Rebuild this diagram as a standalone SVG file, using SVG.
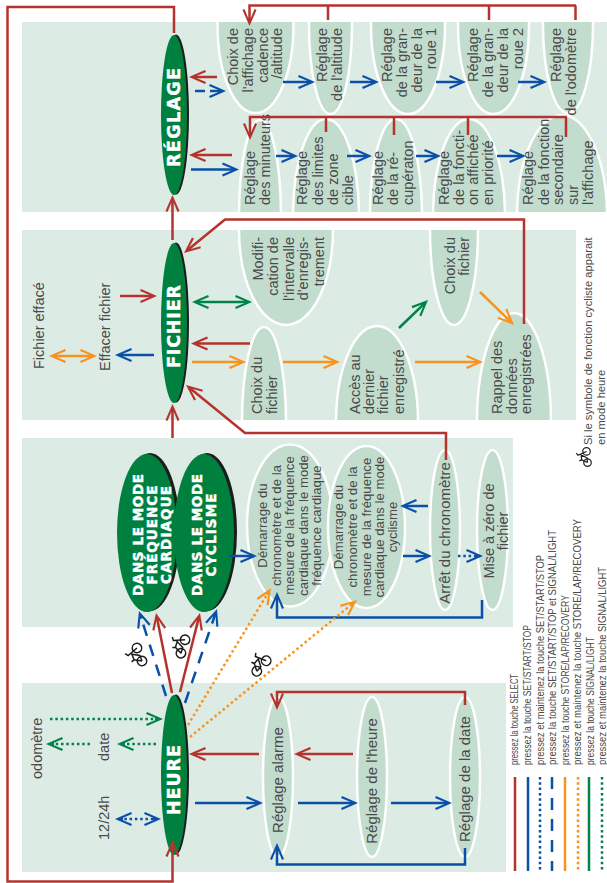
<svg xmlns="http://www.w3.org/2000/svg" width="607" height="883" viewBox="0 0 607 883">
<style>
.t{font-family:"Liberation Sans",Arial,sans-serif;font-size:14.5px;fill:#4a4a4a}
.one{font-size:15px}
.s{font-size:13.2px}
.l{font-size:11.2px}
.lg{font-size:10.5px}
.e{text-anchor:end}
.m{text-anchor:middle}
.w{font-family:"DejaVu Sans",Arial,sans-serif;font-weight:bold;fill:#fff;stroke:#fff;stroke-width:.45;text-anchor:middle}
.p{fill:#dcebe3}
.n{fill:#c2dccd;stroke:#fff;stroke-width:2.5}
.gn{fill:#00803f}
.sh{fill:#1c1c1c}
.c{fill:none;stroke-width:2.5}
.r{stroke:#b5332e}.b{stroke:#0a50a8}.o{stroke:#f7931e}.g{stroke:#00834a}
.dot{stroke-dasharray:2.5 2.8}
.dash{stroke-dasharray:12 9}
.r.a{marker-end:url(#mr)}.b.a{marker-end:url(#mb)}.o.a{marker-end:url(#mo)}.g.a{marker-end:url(#mg)}
.b.z{marker-start:url(#mb)}.o.z{marker-start:url(#mo)}.g.z{marker-start:url(#mg)}
</style>
<defs>
<path id="head" d="M0,0 L-16,-7 L-17,-5 L-8,-1.3 L-8,1.3 L-17,5 L-16,7Z"/>
<marker id="mr" viewBox="-20 -10 24 20" refX="-4" refY="0" markerWidth="24" markerHeight="20" orient="auto-start-reverse" markerUnits="userSpaceOnUse"><use href="#head" fill="#b5332e"/></marker>
<marker id="mb" viewBox="-20 -10 24 20" refX="-4" refY="0" markerWidth="24" markerHeight="20" orient="auto-start-reverse" markerUnits="userSpaceOnUse"><use href="#head" fill="#0a50a8"/></marker>
<marker id="mo" viewBox="-20 -10 24 20" refX="-4" refY="0" markerWidth="24" markerHeight="20" orient="auto-start-reverse" markerUnits="userSpaceOnUse"><use href="#head" fill="#f7931e"/></marker>
<marker id="mg" viewBox="-20 -10 24 20" refX="-4" refY="0" markerWidth="24" markerHeight="20" orient="auto-start-reverse" markerUnits="userSpaceOnUse"><use href="#head" fill="#00834a"/></marker>
<clipPath id="c1"><rect x="22" y="22" width="585" height="190"/></clipPath>
<clipPath id="c2"><rect x="22" y="230" width="554" height="190"/></clipPath>
<g id="bike" fill="none" stroke="#1c1c1c" stroke-width="1.5">
<circle cx="-7" cy="0" r="4.7"/><circle cx="7" cy="0" r="4.7"/>
<path d="M-7,0 L-3,-7 L3,-7 L-1,0 L-7,0 M7,0 L3,-11 L6,-13 M-3,-7 L-4,-10"/>
</g>
</defs>

<g id="panels">
<rect class="p" x="22" y="22" width="585" height="190"/>
<rect class="p" x="22" y="230" width="554" height="190"/>
<rect class="p" x="22" y="438" width="491" height="189"/>
<rect class="p" x="22" y="683" width="484" height="189"/>
</g>

<g id="reglage">
<ellipse class="sh" cx="176" cy="114.500" rx="13" ry="80"/><ellipse class="gn" cx="174" cy="115" rx="13" ry="80"/>
<text class="w" font-size="17.500" textLength="99" transform="translate(0,117.500) rotate(-90)" x="0" y="180">RÉGLAGE</text>
</g>
<g id="choix-affichage"><ellipse class="n" clip-path="url(#c1)" cx="255.500" cy="25" rx="38" ry="88"/>
<text class="t e" transform="translate(0,28) rotate(-90)"><tspan x="0" y="238">Choix de</tspan><tspan x="0" y="253">l'affichage</tspan><tspan x="0" y="268">cadence</tspan><tspan x="0" y="282">/altitude</tspan></text></g>
<g id="reglage-altitude"><ellipse class="n" clip-path="url(#c1)" cx="330.500" cy="25" rx="21.500" ry="89"/>
<text class="t e" transform="translate(0,28) rotate(-90)"><tspan x="0" y="327">Réglage</tspan><tspan x="0" y="342">de l'altitude</tspan></text></g>
<g id="reglage-roue1"><ellipse class="n" clip-path="url(#c1)" cx="408" cy="25" rx="37" ry="89"/>
<text class="t e" transform="translate(0,28) rotate(-90)"><tspan x="0" y="392">Réglage</tspan><tspan x="0" y="407">de la gran-</tspan><tspan x="0" y="422">deur de la</tspan><tspan x="0" y="436">roue 1</tspan></text></g>
<g id="reglage-roue2"><ellipse class="n" clip-path="url(#c1)" cx="493.500" cy="25" rx="35.500" ry="89"/>
<text class="t e" transform="translate(0,28) rotate(-90)"><tspan x="0" y="478">Réglage</tspan><tspan x="0" y="493">de la gran-</tspan><tspan x="0" y="508">deur de la</tspan><tspan x="0" y="523">roue 2</tspan></text></g>
<g id="reglage-odometre"><ellipse class="n" clip-path="url(#c1)" cx="568" cy="25" rx="25" ry="88"/>
<text class="t e" transform="translate(0,28) rotate(-90)"><tspan x="0" y="561">Réglage</tspan><tspan x="0" y="576">de l'odomètre</tspan></text></g>

<g id="reglage-minuteurs"><ellipse class="n" clip-path="url(#c1)" cx="260" cy="216" rx="21" ry="96"/>
<text class="t" transform="translate(0,205) rotate(-90)"><tspan x="0" y="255">Réglage</tspan><tspan x="0" y="270">des minuteurs</tspan></text></g>
<g id="reglage-limites"><ellipse class="n" clip-path="url(#c1)" cx="326" cy="216" rx="33" ry="97"/>
<text class="t" transform="translate(0,205) rotate(-90)"><tspan x="0" y="307">Réglage</tspan><tspan x="0" y="323">des limites</tspan><tspan x="0" y="338">de zone</tspan><tspan x="0" y="353">cible</tspan></text></g>
<g id="reglage-recuperation"><ellipse class="n" clip-path="url(#c1)" cx="396" cy="216" rx="26" ry="97"/>
<text class="t" transform="translate(0,205) rotate(-90)"><tspan x="0" y="383">Réglage</tspan><tspan x="0" y="398">de la ré-</tspan><tspan x="0" y="413">cupératon</tspan></text></g>
<g id="reglage-fonction"><ellipse class="n" clip-path="url(#c1)" cx="469" cy="216" rx="36" ry="97"/>
<text class="t" transform="translate(0,205) rotate(-90)"><tspan x="0" y="449">Réglage</tspan><tspan x="0" y="464">de la foncti-</tspan><tspan x="0" y="478">on affichée</tspan><tspan x="0" y="493">en priorité</tspan></text></g>
<g id="reglage-secondaire"><ellipse class="n" clip-path="url(#c1)" cx="562" cy="216" rx="45" ry="101"/>
<text class="t" transform="translate(0,205) rotate(-90)"><tspan x="0" y="533">Réglage</tspan><tspan x="0" y="549">de la fonction</tspan><tspan x="0" y="563">secondaire</tspan><tspan x="0" y="578">sur</tspan><tspan x="0" y="593">l'affichage</tspan></text></g>

<g id="fichier">
<ellipse class="sh" cx="176" cy="322.500" rx="13" ry="80"/><ellipse class="gn" cx="174" cy="323" rx="13" ry="80"/>
<text class="w" font-size="17.500" textLength="83" transform="translate(0,326.500) rotate(-90)" x="0" y="180">FICHIER</text>
<text class="t" transform="translate(0,369) rotate(-90)" x="0" y="44">Fichier effacé</text>
<text class="t" transform="translate(0,371) rotate(-90)" x="0" y="110">Effacer fichier</text>
</g>
<g id="modification"><ellipse class="n" clip-path="url(#c2)" cx="286" cy="230" rx="47" ry="95"/>
<text class="t e" transform="translate(0,237) rotate(-90)"><tspan x="0" y="263">Modifi-</tspan><tspan x="0" y="278">cation de</tspan><tspan x="0" y="294">l'intervalle</tspan><tspan x="0" y="308">d'enregis-</tspan><tspan x="0" y="324">trement</tspan></text></g>
<g id="choix-fichier-1"><ellipse class="n" clip-path="url(#c2)" cx="264" cy="422" rx="22" ry="95"/>
<text class="t" transform="translate(0,414) rotate(-90)"><tspan x="0" y="262">Choix du</tspan><tspan x="0" y="277">fichier</tspan></text></g>
<g id="choix-fichier-2"><ellipse class="n" clip-path="url(#c2)" cx="454" cy="230" rx="24" ry="95"/>
<text class="t e" transform="translate(0,237) rotate(-90)"><tspan x="0" y="455">Choix du</tspan><tspan x="0" y="469">fichier</tspan></text></g>
<g id="acces"><ellipse class="n" clip-path="url(#c2)" cx="377" cy="422" rx="41" ry="96"/>
<text class="t" transform="translate(0,414) rotate(-90)"><tspan x="0" y="360">Accès au</tspan><tspan x="0" y="374">dernier</tspan><tspan x="0" y="388">fichier</tspan><tspan x="0" y="404">enregistré</tspan></text></g>
<g id="rappel"><ellipse class="n" clip-path="url(#c2)" cx="514" cy="422" rx="37" ry="109"/>
<text class="t" transform="translate(0,414) rotate(-90)"><tspan x="0" y="502">Rappel des</tspan><tspan x="0" y="517">données</tspan><tspan x="0" y="531">enregistrées</tspan></text></g>

<g id="mode-frequence">
<ellipse class="sh" cx="150" cy="532" rx="30" ry="79"/><ellipse class="gn" cx="147" cy="533" rx="30" ry="79"/>
<text class="w" font-size="13.500" transform="translate(0,535) rotate(-90)"><tspan x="0" y="143" textLength="122">DANS LE MODE</tspan><tspan x="0" y="157" textLength="99">FRÉQUENCE</tspan><tspan x="0" y="171" textLength="98">CARDIAQUE</tspan></text>
</g>
<g id="mode-cyclisme">
<ellipse class="sh" cx="207" cy="532" rx="30" ry="79"/><ellipse class="gn" cx="204" cy="533" rx="30" ry="79"/>
<text class="w" font-size="13.500" transform="translate(0,535) rotate(-90)"><tspan x="0" y="202" textLength="122">DANS LE MODE</tspan><tspan x="0" y="216" textLength="83">CYCLISME</tspan></text>
</g>
<g id="demarrage-frequence"><ellipse class="n" cx="290" cy="525.500" rx="43" ry="81"/>
<text class="t s m" transform="translate(0,525.500) rotate(-90)"><tspan x="0" y="267">Démarrage du</tspan><tspan x="0" y="280.500">chronomètre et de la</tspan><tspan x="0" y="294">mesure de la fréquence</tspan><tspan x="0" y="308">cardiaque dans le mode</tspan><tspan x="0" y="321">fréquence cardiaque</tspan></text></g>
<g id="demarrage-cyclisme"><ellipse class="n" cx="366.500" cy="527" rx="38.500" ry="81"/>
<text class="t s m" transform="translate(0,527) rotate(-90)"><tspan x="0" y="343">Démarrage du</tspan><tspan x="0" y="357">chronomètre et de la</tspan><tspan x="0" y="371">mesure de la fréquence</tspan><tspan x="0" y="384">cardiaque dans le mode</tspan><tspan x="0" y="397">cyclisme</tspan></text></g>
<g id="arret"><ellipse class="n" cx="445" cy="530" rx="15" ry="80"/>
<text class="t one m" transform="translate(0,533) rotate(-90)" x="0" y="450">Arrêt du chronomètre</text></g>
<g id="mise-a-zero"><ellipse class="n" cx="492.500" cy="530" rx="15.500" ry="80"/>
<text class="t m" transform="translate(0,531) rotate(-90)"><tspan x="0" y="494">Mise à zéro de</tspan><tspan x="0" y="508">fichier</tspan></text></g>

<g id="heure">
<ellipse class="sh" cx="176" cy="774.500" rx="13" ry="80"/><ellipse class="gn" cx="174" cy="775" rx="13" ry="80"/>
<text class="w" font-size="17.500" textLength="70" transform="translate(0,780) rotate(-90)" x="0" y="180">HEURE</text>
<text class="t" transform="translate(0,779) rotate(-90)" x="0" y="42">odomètre</text>
<text class="t" transform="translate(0,761) rotate(-90)" x="0" y="109">date</text>
<text class="t" transform="translate(0,840) rotate(-90)" x="0" y="109">12/24h</text>
</g>
<g id="reglage-alarme"><ellipse class="n" cx="278" cy="777" rx="15" ry="80"/>
<text class="t one m" transform="translate(0,780) rotate(-90)" x="0" y="283">Réglage alarme</text></g>
<g id="reglage-heure"><ellipse class="n" cx="372" cy="777" rx="15" ry="80"/>
<text class="t one m" transform="translate(0,781) rotate(-90)" x="0" y="377">Réglage de l'heure</text></g>
<g id="reglage-date"><ellipse class="n" cx="465" cy="777" rx="15" ry="80"/>
<text class="t one m" transform="translate(0,779) rotate(-90)" x="0" y="470">Réglage de la date</text></g>

<g id="connectors">
<path class="c r a" d="M174,33V7H7.500V881.500H172.500V844"/>
<path class="c r a" d="M172.500,240V199"/>
<path class="c r a" d="M172.500,438V408"/>
<path class="c r a" d="M576,5.500H249.500V22"/>
<path class="c r" d="M328,5.500V20M489,5.500V20M575.500,5.500V20"/>
<path class="c r a" d="M567,117H250V136"/>
<path class="c r" d="M326,117V132M394,117V135M468,117V135M566,117V137"/>
<path class="c r a" d="M217,77H193"/>
<path class="c b a" style="stroke-dasharray:10 5" d="M195,91H222"/>
<path class="c r a" d="M232,155H193"/>
<path class="c b a" d="M191,169.500H235"/>
<path class="c b a" d="M283,82H311"/>
<path class="c b a" d="M350,82H375"/>
<path class="c b a" d="M436,82H462"/>
<path class="c b a" d="M518,82H543"/>
<path class="c b a" d="M276,156H294"/>
<path class="c b a" d="M347,156H368"/>
<path class="c b a" d="M416,156H437"/>
<path class="c b a" d="M497,156H522"/>

<path class="c r a" d="M524,324V219.500H225L187.100,250.500"/>
<path class="c r a" d="M120,296H153"/>
<path class="c g a z" d="M196,302H248"/>
<path class="c r a" d="M250,343.500H195"/>
<path class="c o a" d="M192,362H242"/>
<path class="c b a" d="M154,355H119"/>
<path class="c o a z" d="M53,356H93"/>
<path class="c r a" d="M446,460V433H245L189.100,387.500"/>
<path class="c o a" d="M283,362H336"/>
<path class="c o a" d="M415,362H479"/>
<path class="c g a" d="M399,328L425.100,302.800"/>
<path class="c o a" d="M480,292L511.100,322.200"/>

<path class="c b a" d="M229,556H253"/>
<path class="c b a" d="M428,506H404"/>
<path class="c b a" d="M403,556H428"/>
<path class="c b a dot" d="M458,556H479"/>
<path class="c b a" d="M482,600V617.500H277V596"/>

<path class="c b a dash" d="M166,696L140.200,614.800"/>
<path class="c r a" d="M172,693L156.800,616.900"/>
<path class="c r a" d="M180,692L199,616.900"/>
<path class="c b a dash" d="M185,703L215.700,612.800"/>
<path class="c o a dot" d="M188,725L268.900,591.400"/>
<path class="c o a dot" d="M190,737L353.900,602.500"/>

<path class="c g a dot" d="M50,719H159"/>
<path class="c g a dot" d="M156,744H121"/>
<path class="c g a dot" d="M90,744H50"/>
<path class="c b a z dot" d="M119,819H157"/>
<path class="c r a" d="M259,754H193"/>
<path class="c b a" d="M195,803H259"/>
<path class="c r a" d="M353,754H298"/>
<path class="c b a" d="M298,803H354"/>
<path class="c b a" d="M391,803H448"/>
<path class="c r a" d="M465,705V692H277V706"/>
<path class="c b a" d="M465,848V864.500H277V847"/>
</g>

<g id="bikes">
<use href="#bike" transform="translate(139.500,654.500) rotate(-111)"/>
<use href="#bike" transform="translate(183,646.500) rotate(-73)"/>
<use href="#bike" transform="translate(261.500,666) rotate(-48)"/>
<use href="#bike" transform="translate(587,457) rotate(-95) scale(.8)"/>
</g>

<g id="legend">
<path class="c r" d="M515,777V871"/>
<path class="c b" d="M528,777V871"/>
<path class="c b dot" d="M540,777V871"/>
<path class="c b dash" d="M552,777V871"/>
<path class="c o" d="M565,777V871"/>
<path class="c o dot" d="M578,777V871"/>
<path class="c g" d="M589,777V871"/>
<path class="c g dot" d="M602,777V871"/>
<g transform="translate(0,765) rotate(-90)">
<text class="t lg" x="0" y="518" textLength="91" lengthAdjust="spacingAndGlyphs">pressez la touche SELECT</text>
<text class="t lg" x="0" y="531" textLength="140" lengthAdjust="spacingAndGlyphs">pressez la touche SET/START/STOP</text>
<text class="t lg" x="0" y="543.500" textLength="210" lengthAdjust="spacingAndGlyphs">pressez et maintenez la touche SET/START/STOP</text>
<text class="t lg" x="0" y="556" textLength="235" lengthAdjust="spacingAndGlyphs">pressez la touche SET/START/STOP et SIGNAL/LIGHT</text>
<text class="t lg" x="0" y="568.500" textLength="170" lengthAdjust="spacingAndGlyphs">pressez la touche STORE/LAP/RECOVERY</text>
<text class="t lg" x="0" y="581" textLength="246" lengthAdjust="spacingAndGlyphs">pressez et maintenez la touche STORE/LAP/RECOVERY</text>
<text class="t lg" x="0" y="593.500" textLength="128" lengthAdjust="spacingAndGlyphs">pressez la touche SIGNAL/LIGHT</text>
<text class="t lg" x="0" y="605.500" textLength="198" lengthAdjust="spacingAndGlyphs">pressez et maintenez la touche SIGNAL/LIGHT</text>
</g>
<text class="t l" transform="translate(0,445) rotate(-90)"><tspan x="0" y="592">Si le symbole de fonction cycliste apparait</tspan><tspan x="0" y="605">en mode heure</tspan></text>
</g>
</svg>
